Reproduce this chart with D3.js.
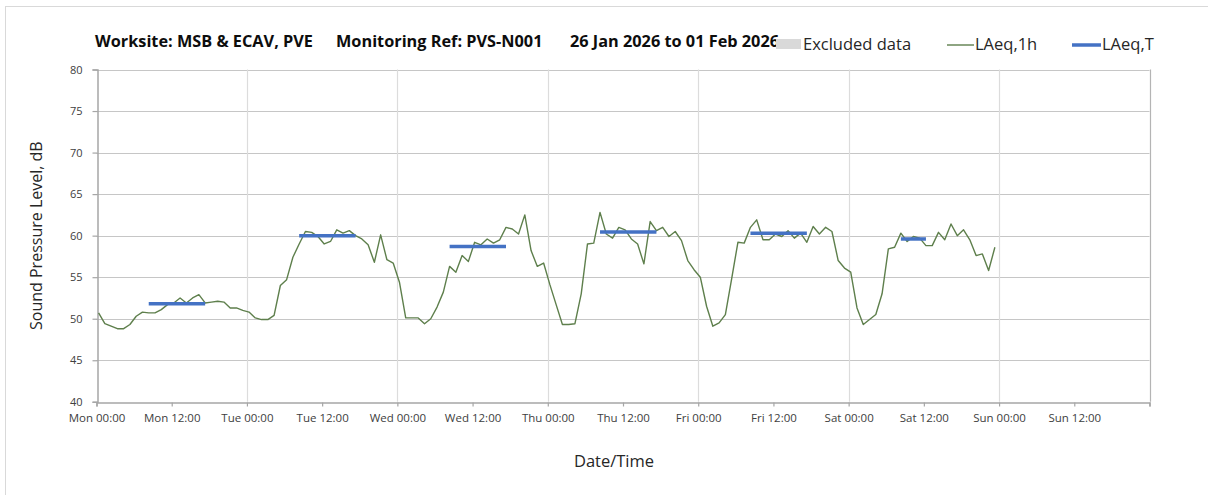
<!DOCTYPE html>
<html>
<head>
<meta charset="utf-8">
<script src="https://cdnjs.cloudflare.com/ajax/libs/d3/7.8.5/d3.min.js"></script>
<style>
  body { margin: 0; background: #fff; }
  text { font-family: "Open Sans", "DejaVu Sans", sans-serif; }
</style>
</head>
<body>
<div id="chart"></div>
<script>
// chart data
var startDate = new Date(2026, 0, 26, 0, 0);
var endDate = new Date(2026, 1, 2, 0, 0);
var pointMinutes = 20; // hourly points sit a little after the hour

// LAeq,1h - one value per hour from Mon 00:00
var laeq1h = [
  50.7, 49.4, 49.1, 48.8, 48.8, 49.3, 50.3, 50.8, 50.7, 50.7, 51.1, 51.7,
  51.9, 52.5, 51.9, 52.5, 52.9, 51.9, 52.0, 52.1, 52.0, 51.3, 51.3, 51.0,
  50.8, 50.1, 49.9, 49.9, 50.4, 54.0, 54.7, 57.4, 59.0, 60.5, 60.4, 59.9,
  59.0, 59.3, 60.7, 60.3, 60.6, 60.0, 59.6, 58.9, 56.8, 60.1, 57.1, 56.7,
  54.4, 50.1, 50.1, 50.1, 49.4, 50.0, 51.4, 53.2, 56.3, 55.6, 57.6, 56.9,
  59.2, 58.9, 59.6, 59.1, 59.5, 61.0, 60.8, 60.2, 62.5, 58.2, 56.3, 56.7,
  54.1, 51.7, 49.3, 49.3, 49.4, 53.0, 59.0, 59.1, 62.8, 60.2, 59.7, 61.0,
  60.7, 59.6, 59.0, 56.6, 61.7, 60.6, 61.0, 59.9, 60.5, 59.4, 57.0, 55.9,
  55.0, 51.5, 49.1, 49.5, 50.5, 54.8, 59.2, 59.1, 61.0, 61.9, 59.5, 59.5,
  60.2, 59.9, 60.6, 59.7, 60.3, 59.2, 61.1, 60.2, 61.0, 60.5, 57.0, 56.1,
  55.6, 51.3, 49.3, 49.9, 50.5, 53.0, 58.4, 58.6, 60.3, 59.3, 59.9, 59.7,
  58.8, 58.8, 60.4, 59.5, 61.4, 60.0, 60.7, 59.5, 57.6, 57.8, 55.8, 58.6
];

// LAeq,T - daytime periods (hours from Mon 00:00)
var periodStart = [8, 32, 56, 80, 104, 128];
var periodEnd = [17, 41, 65, 89, 113, 132];
var laeqT = [51.8, 60.0, 58.7, 60.45, 60.3, 59.6];

var yTicks = [40, 45, 50, 55, 60, 65, 70, 75, 80];

var titleParts = ["Worksite: MSB & ECAV, PVE", "Monitoring Ref: PVS-N001", "26 Jan 2026 to 01 Feb 2026"];
var legendLabels = ["Excluded data", "LAeq,1h", "LAeq,T"];

// Step 1: svg area
var svgWidth = 1208;
var svgHeight = 495;

var plot = { left: 96.5, right: 1149.5, top: 69.5, bottom: 401.8 };

var svg = d3.select("#chart")
  .append("svg")
  .attr("width", svgWidth)
  .attr("height", svgHeight);

// outer frame
svg.append("rect")
  .attr("x", 5.5).attr("y", 6.5)
  .attr("width", svgWidth).attr("height", svgHeight)
  .attr("fill", "none")
  .attr("stroke", "#d9d9d9");

function hourDate(h, mins) {
  return new Date(startDate.getTime() + (h * 60 + (mins || 0)) * 60000);
}

// Step 2: scales
var xScale = d3.scaleTime()
  .domain([startDate, endDate])
  .range([plot.left, plot.right]);

var yScale = d3.scaleLinear()
  .domain([40, 80])
  .range([plot.bottom, plot.top]);

// horizontal gridlines
svg.append("g")
  .selectAll("line")
  .data(yTicks.filter(d => d > 40))
  .enter()
  .append("line")
  .attr("x1", plot.left).attr("x2", plot.right)
  .attr("y1", d => Math.round(yScale(d)) + 0.5)
  .attr("y2", d => Math.round(yScale(d)) + 0.5)
  .attr("stroke", "#c6c6c6")
  .attr("stroke-width", 1.2);

// vertical gridlines at midnight
var dayTicks = d3.timeDay.range(d3.timeDay.offset(startDate, 1), d3.timeDay.offset(endDate, 1));
svg.append("g")
  .selectAll("line")
  .data(dayTicks)
  .enter()
  .append("line")
  .attr("x1", d => Math.round(xScale(d)) + 0.5)
  .attr("x2", d => Math.round(xScale(d)) + 0.5)
  .attr("y1", plot.top).attr("y2", plot.bottom)
  .attr("stroke", d => +d === +endDate ? "#b4b4b4" : "#dcdcdc")
  .attr("stroke-width", 1.2);

// Step 3: axes
var xTicks = d3.timeHour.every(12).range(startDate, d3.timeHour.offset(endDate, 1));
var fmt = d3.timeFormat("%a %H:%M");

var xAxis = svg.append("g")
  .attr("transform", `translate(0, ${Math.round(plot.bottom) + 0.5})`)
  .call(d3.axisBottom(xScale)
    .tickValues(xTicks)
    .tickSize(4)
    .tickFormat(d => +d === +endDate ? "" : fmt(d)));

var yAxis = svg.append("g")
  .attr("transform", `translate(${Math.round(plot.left) + 0.5}, 0)`)
  .call(d3.axisLeft(yScale)
    .tickValues(yTicks)
    .tickSize(5)
    .tickPadding(10)
    .tickFormat(d3.format("d")));

[xAxis, yAxis].forEach(function(ax) {
  ax.select(".domain").attr("stroke", "#a6a6a6").attr("stroke-width", 1.5);
  ax.selectAll(".tick line").attr("stroke", "#a6a6a6").attr("stroke-width", 1.2);
  ax.selectAll(".tick text")
    .attr("fill", "#404040")
    .style("font-size", "11.5px")
    .style("font-family", "\"Open Sans\", sans-serif");
});
yAxis.selectAll(".tick text").style("font-size", "11px");
xAxis.selectAll(".tick text").attr("dy", "1.05em").attr("y", 7);

// axis titles
svg.append("text")
  .attr("transform", "rotate(-90)")
  .attr("x", -(plot.top + plot.bottom) / 2)
  .attr("y", 42)
  .attr("text-anchor", "middle")
  .attr("fill", "#262626")
  .style("font-size", "16px")
  .text("Sound Pressure Level, dB");

svg.append("text")
  .attr("x", 614)
  .attr("y", 467)
  .attr("text-anchor", "middle")
  .attr("fill", "#262626")
  .style("font-size", "16.5px")
  .text("Date/Time");

// Step 4: LAeq,1h line
var line = d3.line()
  .x((d, i) => xScale(hourDate(i, pointMinutes)))
  .y(d => yScale(d));

svg.append("path")
  .datum(laeq1h)
  .attr("d", line)
  .attr("fill", "none")
  .attr("stroke", "#5e7f4c")
  .attr("stroke-width", 1.4)
  .attr("stroke-linejoin", "round");

// LAeq,T bars
svg.append("g")
  .selectAll("line")
  .data(laeqT)
  .enter()
  .append("line")
  .attr("x1", (d, i) => xScale(hourDate(periodStart[i], pointMinutes)))
  .attr("x2", (d, i) => xScale(hourDate(periodEnd[i], pointMinutes)))
  .attr("y1", d => yScale(d))
  .attr("y2", d => yScale(d))
  .attr("stroke", "#4472c4")
  .attr("stroke-width", 3.5);

// Step 5: title
var titleX = [95, 336, 570];
svg.append("g")
  .selectAll("text")
  .data(titleParts)
  .enter()
  .append("text")
  .attr("x", (d, i) => titleX[i])
  .attr("y", 47)
  .attr("fill", "#0d0d0d")
  .style("font-size", "16.3px")
  .style("font-weight", "bold")
  .text(d => d);

// legend
var legend = svg.append("g");
legend.append("rect")
  .attr("x", 776).attr("y", 39)
  .attr("width", 25).attr("height", 10)
  .attr("fill", "#d9d9d9");
legend.append("line")
  .attr("x1", 947).attr("x2", 974)
  .attr("y1", 45).attr("y2", 45)
  .attr("stroke", "#5e7f4c").attr("stroke-width", 1.4);
legend.append("line")
  .attr("x1", 1072).attr("x2", 1101)
  .attr("y1", 45).attr("y2", 45)
  .attr("stroke", "#4472c4").attr("stroke-width", 3.5);

var legendX = [803, 975, 1102];
legend.selectAll("text")
  .data(legendLabels)
  .enter()
  .append("text")
  .attr("x", (d, i) => legendX[i])
  .attr("y", 50)
  .attr("fill", "#262626")
  .style("font-size", "16.5px")
  .text(d => d);
</script>
</body>
</html>
